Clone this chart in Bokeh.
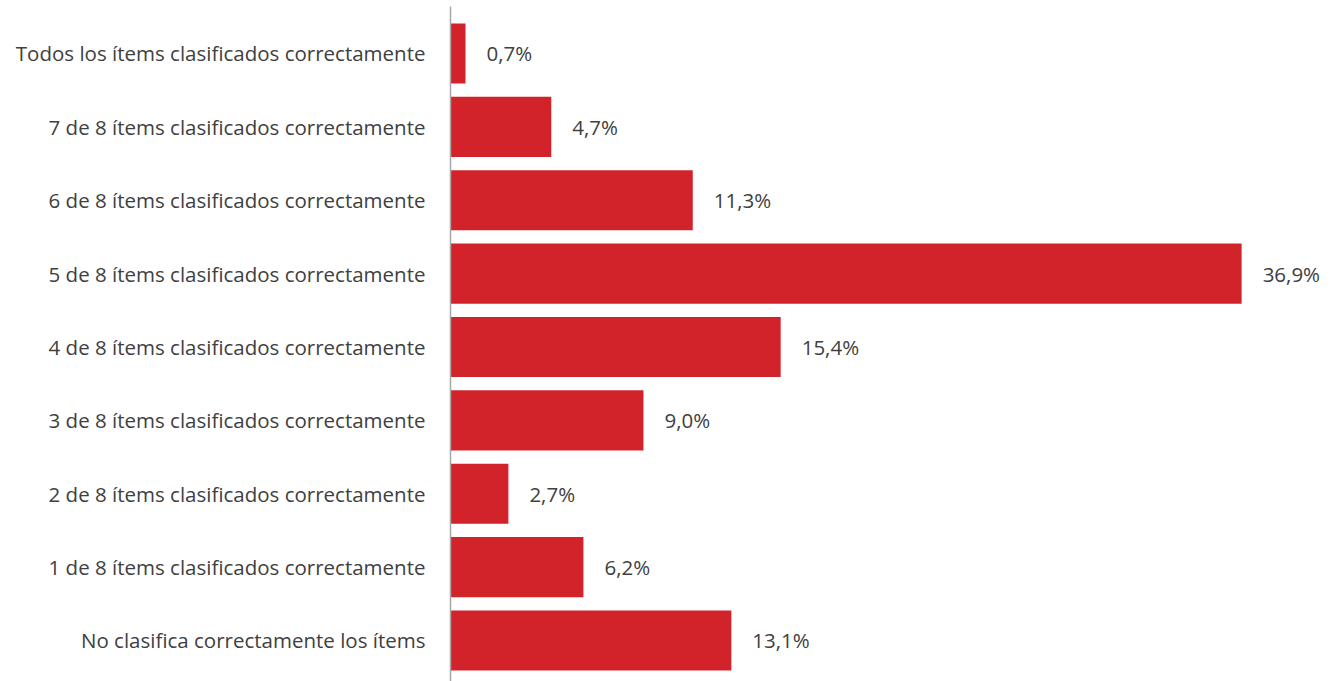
from bokeh.plotting import figure
from bokeh.models import FixedTicker, ColumnDataSource, Range1d
from bokeh.core.properties import value
from bokeh.embed import file_html
from bokeh.resources import INLINE

categories = [
    "Todos los ítems clasificados correctamente",
    "7 de 8 ítems clasificados correctamente",
    "6 de 8 ítems clasificados correctamente",
    "5 de 8 ítems clasificados correctamente",
    "4 de 8 ítems clasificados correctamente",
    "3 de 8 ítems clasificados correctamente",
    "2 de 8 ítems clasificados correctamente",
    "1 de 8 ítems clasificados correctamente",
    "No clasifica correctamente los ítems",
]
values = [0.7, 4.7, 11.3, 36.9, 15.4, 9.0, 2.7, 6.2, 13.1]

n = len(categories)
ypos = [n - 1 - i for i in range(n)]
labels = [f"{v:.1f}".replace(".", ",") + "%" for v in values]

src = ColumnDataSource(dict(y=ypos, v=values, lab=labels))

FONT = "Open Sans"
p = figure(width=1336, height=681, output_backend="svg", toolbar_location=None,
           x_range=Range1d(0, 886 / 21.44), y_range=Range1d(-0.5588, 8.6405),
           min_border_left=450, min_border_right=0, min_border_top=6, min_border_bottom=0)
p.outline_line_color = None
p.xgrid.visible = False
p.ygrid.visible = False
p.xaxis.visible = False
p.background_fill_color = "white"

p.hbar(y="y", right="v", left=0, height=0.82, source=src, color="#D2232A", line_color=None)
p.text(x="v", y="y", text="lab", source=src, x_offset=21, text_align="left",
       text_baseline="middle", text_font=value(FONT), text_font_size="20.5px",
       text_color="#404040")

ya = p.yaxis[0]
ya.ticker = FixedTicker(ticks=ypos)
ya.major_label_overrides = {y: c for y, c in zip(ypos, categories)}
ya.major_tick_line_color = None
ya.minor_tick_line_color = None
ya.axis_line_color = "#A6A6A6"
ya.axis_line_width = 1.5
ya.major_label_standoff = 19
ya.major_label_text_font = FONT
ya.major_label_text_font_size = "20.5px"
ya.major_label_text_color = "#404040"

open("out.html", "w").write(file_html(p, INLINE))
